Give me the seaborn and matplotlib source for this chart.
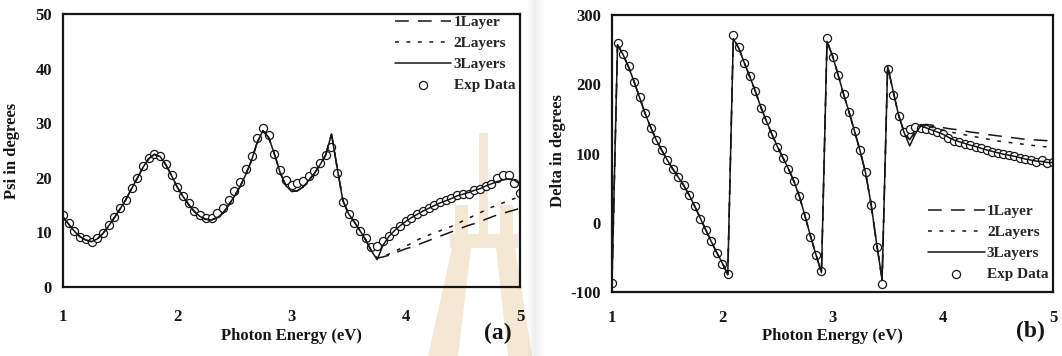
import matplotlib
matplotlib.use("Agg")
import matplotlib.pyplot as plt
from matplotlib.patches import Polygon, Rectangle
import seaborn as sns

# Photon energy grid of the ellipsometry scan (eV)
energy = [1.00, 1.05, 1.10, 1.15, 1.20, 1.25, 1.30, 1.35, 1.40, 1.45,
          1.50, 1.55, 1.60, 1.65, 1.70, 1.75, 1.80, 1.85, 1.90, 1.95,
          2.00, 2.05, 2.10, 2.15, 2.20, 2.25, 2.30, 2.35, 2.40, 2.45,
          2.50, 2.55, 2.60, 2.65, 2.70, 2.75, 2.80, 2.85, 2.90, 2.95,
          3.00, 3.05, 3.10, 3.15, 3.20, 3.25, 3.30, 3.35, 3.40, 3.45,
          3.50, 3.55, 3.60, 3.65, 3.70, 3.75, 3.80, 3.85, 3.90, 3.95,
          4.00, 4.05, 4.10, 4.15, 4.20, 4.25, 4.30, 4.35, 4.40, 4.45,
          4.50, 4.55, 4.60, 4.65, 4.70, 4.75, 4.80, 4.85, 4.90, 4.95, 5.00]

# Psi (degrees): measured and modelled
psi_exp = [13.2, 11.8, 10.3, 9.2, 8.7, 8.3, 8.9, 9.8, 11.4, 12.8,
           14.4, 16.0, 18.1, 19.9, 22.1, 23.6, 24.3, 24.0, 22.5, 20.5,
           18.4, 16.7, 15.3, 13.9, 13.1, 12.7, 12.7, 13.5, 14.4, 16.0,
           17.5, 19.3, 21.6, 24.0, 27.3, 29.1, 27.9, 24.3, 21.5, 19.6,
           18.7, 19.0, 19.4, 20.4, 21.3, 22.7, 24.1, 25.7, 20.8, 15.5,
           13.3, 11.8, 10.3, 8.9, 7.3, 7.6, 8.4, 9.4, 10.3, 11.2,
           12.1, 12.7, 13.3, 13.9, 14.4, 15.0, 15.5, 15.9, 16.3, 16.8,
           17.1, 17.1, 17.7, 17.9, 18.5, 18.9, 20.0, 20.5, 20.5, 19.1, 17.3]
psi_3layer = [12.8, 11.5, 10.2, 9.2, 8.6, 8.3, 8.8, 9.8, 11.2, 12.7,
              14.3, 16.0, 18.0, 19.9, 21.9, 23.5, 24.3, 23.9, 22.4, 20.4,
              18.3, 16.6, 15.1, 13.8, 12.9, 12.4, 12.3, 12.7, 13.5, 15.0,
              16.6, 18.4, 20.6, 23.2, 26.5, 28.6, 27.4, 24.4, 21.0, 18.6,
              17.5, 17.6, 18.3, 19.5, 20.8, 22.4, 24.2, 28.0, 21.8, 15.8,
              13.4, 11.9, 10.3, 8.6, 6.6, 5.0, 7.6, 9.2, 10.3, 11.2,
              12.0, 12.7, 13.3, 13.9, 14.4, 14.9, 15.4, 15.8, 16.2, 16.7,
              17.0, 17.3, 17.7, 18.0, 18.5, 18.9, 19.3, 19.6, 19.8, 19.6, 18.8]
# thinner models depart from the 3-layer fit above 3.75 eV
psi_1layer_tail = [5.3, 5.5, 5.8, 6.2, 6.6, 7.0, 7.3, 7.7, 8.1, 8.5, 8.9, 9.3, 9.7,
                   10.1, 10.5, 10.9, 11.3, 11.6, 12.0, 12.4, 12.8, 13.2, 13.5, 13.8,
                   14.1, 14.4]
psi_2layer_tail = [5.3, 5.6, 6.0, 6.5, 7.0, 7.5, 8.0, 8.6, 9.1, 9.5, 9.9, 10.3, 10.7,
                   11.1, 11.6, 12.1, 12.6, 13.1, 13.6, 14.1, 14.6, 15.0, 15.4, 15.8,
                   16.2, 16.4]

# Delta (degrees): measured and modelled
delta_exp = [-87, 260, 244, 226, 203.5, 181, 158, 137, 119, 105,
             90, 78, 66, 54, 40.6, 24, 6, -10, -26, -43,
             -59, -74, 271, 254, 231, 212, 190, 166, 148, 128,
             109.5, 94, 78, 60, 39, 10, -20, -47, -70, 267.5,
             240, 213, 186, 159.6, 132, 105, 73, 26, -34.5, -88,
             222, 185, 154.5, 131, 135, 138.5, 137.5, 136, 134, 131,
             128, 123, 118, 117, 114, 112, 109.5, 107.5, 104.5, 102.5,
             101, 99, 98, 96.4, 94, 91.5, 90, 87.6, 90, 85.7, 88]
delta_3layer = [-85, 257, 243, 225, 204, 181, 158, 138, 120, 105,
                91, 78, 66, 54, 40, 24, 7, -10, -27, -43,
                -58, -75, 266, 252, 231, 211, 190, 167, 147, 128,
                110, 94, 78, 60, 38, 10, -19, -46, -72, 262,
                241, 214, 186, 160, 132, 104, 72, 27, -30, -82,
                226, 190, 155, 130, 111, 128, 140, 137, 134, 131,
                128, 123.5, 119.5, 117, 114.5, 112, 110, 107.5, 105, 103,
                101, 99, 97.5, 96, 94, 92, 90.5, 89, 88.5, 87, 87]
delta_1layer_tail = [131, 120, 132, 141, 142, 141, 139, 137.5, 136, 135, 134, 132.5,
                     131, 130, 129, 127.5, 126.5, 125.5, 124.5, 123.5, 122.5, 121.5,
                     120.5, 120, 119.5, 119, 118.5, 118]
delta_2layer_tail = [131, 118, 131, 140, 140, 138, 136, 134, 132, 130, 128.5, 127,
                     125.5, 124, 122.5, 121, 119.5, 118, 117, 116, 115, 114, 113, 112,
                     111, 110, 109.5, 109]

legend_labels = ["1Layer", "2Layers", "3Layers", "Exp Data"]
x_ticks = [1, 2, 3, 4, 5]
psi_ticks = [0, 10, 20, 30, 40, 50]
delta_ticks = [-100, 0, 100, 200, 300]


def join_tail(base, tail):
    """Model curve equal to the 3-layer fit, replaced by its own tail at high energy."""
    return list(base[:len(base) - len(tail)]) + list(tail)


sns.set_theme(style="white")
plt.rcParams["font.family"] = ["Liberation Serif", "DejaVu Serif"]
plt.rcParams["font.weight"] = "bold"
plt.rcParams["axes.unicode_minus"] = False

INK = "#161616"
FS = 12
W, H = 1062, 356

fig = plt.figure(figsize=(W / 100, H / 100), dpi=100)


def px(x, y):
    """Figure pixel position (from top-left) to figure fraction."""
    return (x / W, 1 - y / H)


# pale printed seal behind panel (a) and the shaded page gutter
seal = "#F4E8D4"
for pts in ([(479, 133), (488, 133), (488, 236), (479, 236)],
            [(450, 234), (518, 234), (518, 248), (450, 248)],
            [(452, 248), (471, 248), (458, 356), (428, 356)],
            [(496, 248), (515, 248), (532, 356), (508, 356)],
            [(455, 205), (468, 205), (468, 234), (455, 234)],
            [(500, 205), (513, 205), (513, 234), (500, 234)]):
    fig.patches.append(Polygon([px(*p) for p in pts], closed=True,
                               transform=fig.transFigure, facecolor=seal,
                               edgecolor="none", zorder=-5))
for i, a in enumerate([0.04, 0.08, 0.11, 0.08, 0.04]):
    fig.patches.append(Rectangle(px(528 + 3 * i, 356), 3 / W, 1,
                                 transform=fig.transFigure, facecolor="#707070",
                                 alpha=a, edgecolor="none", zorder=-5))

ax_a = fig.add_axes([63 / W, 1 - 287 / H, (520 - 63) / W, (287 - 14) / H])
ax_b = fig.add_axes([612 / W, 1 - 292 / H, (1053 - 612) / W, (292 - 15) / H])

line_styles = [(0, (9, 6)), (0, (2.5, 5)), "-"]


def draw_panel(ax, exp, model3, tail1, tail2, ylim, yticks, ylabel,
               legend_loc, legend_anchor, xpad):
    ax.set_facecolor("none")
    models = [join_tail(model3, tail1), join_tail(model3, tail2), model3]
    sns.scatterplot(x=energy, y=exp, ax=ax, marker="o", s=34,
                    facecolor="white", edgecolor=INK, linewidth=0.9,
                    label=legend_labels[3], zorder=2)
    for lab, vals, ls in zip(legend_labels[:3], models, line_styles):
        sns.lineplot(x=energy, y=vals, ax=ax, color=INK, linewidth=1.1,
                     linestyle=ls, sort=False, estimator=None,
                     label=lab, zorder=3)
    ax.set_xlim(1, 5)
    ax.set_ylim(*ylim)
    ax.set_xticks(x_ticks)
    ax.set_yticks(yticks)
    ax.tick_params(axis="x", length=0, pad=xpad, labelsize=FS, colors=INK)
    ax.tick_params(axis="y", length=0, pad=8, labelsize=FS, colors=INK)
    for s in ax.spines.values():
        s.set_visible(True)
        s.set_color(INK)
        s.set_linewidth(1.6)
    ax.set_xlabel("Photon Energy (eV)", fontsize=FS, fontweight="bold",
                  color=INK, va="center")
    ax.set_ylabel(ylabel, fontsize=FS, fontweight="bold", color=INK, va="center")
    handles, labels = ax.get_legend_handles_labels()
    order = [labels.index(l) for l in legend_labels]
    ax.legend([handles[i] for i in order], [labels[i] for i in order],
              loc=legend_loc, bbox_to_anchor=legend_anchor, frameon=False,
              fontsize=11, handlelength=3.7, handletextpad=0.15,
              labelspacing=0.47, borderaxespad=0.0, borderpad=0.1)
    ax.grid(False)


draw_panel(ax_a, psi_exp, psi_3layer, psi_1layer_tail, psi_2layer_tail,
           (0, 50), psi_ticks, "Psi in degrees", "upper right", (0.993, 1.0), 16)
draw_panel(ax_b, delta_exp, delta_3layer, delta_1layer_tail, delta_2layer_tail,
           (-100, 300), delta_ticks, "Delta in degrees", "lower right",
           (0.993, 0.035), 13)

ax_a.xaxis.set_label_coords(0.5, (287 - 336) / 273)
ax_a.yaxis.set_label_coords((12 - 63) / 457, 0.5)
ax_b.xaxis.set_label_coords(0.5, (292 - 336) / 277)
ax_b.yaxis.set_label_coords((558 - 612) / 441, 0.51)

fig.text(*px(498, 333), "(a)", fontsize=17, fontweight="bold",
         color=INK, ha="center", va="center")
fig.text(*px(1030, 331), "(b)", fontsize=17, fontweight="bold",
         color=INK, ha="center", va="center")

fig.savefig("out.png", dpi=100, facecolor="white")
